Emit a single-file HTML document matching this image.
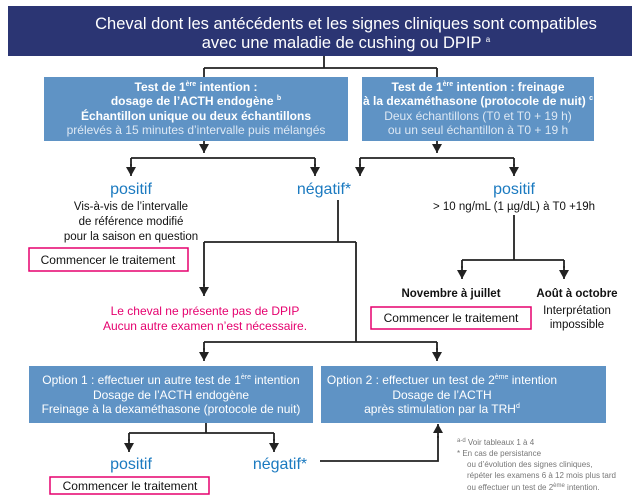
<!DOCTYPE html>
<html><head><meta charset="utf-8"><style>
html,body{margin:0;padding:0;background:#fff}
svg{display:block}
text{font-family:"Liberation Sans",sans-serif}
</style></head><body>
<svg width="640" height="501" viewBox="0 0 640 501" xmlns="http://www.w3.org/2000/svg">
<defs><marker id="a" markerWidth="10" markerHeight="10" refX="9" refY="5" orient="auto" markerUnits="userSpaceOnUse"><path d="M0,0 L9,5 L0,10 Z" fill="#222"/></marker></defs>
<rect x="8" y="6" width="624" height="50" fill="#2b3573"/>
<text x="346" y="29" font-size="16.5" fill="#fff" text-anchor="middle">Cheval dont les antécédents et les signes cliniques sont compatibles</text>
<text x="346" y="48" font-size="16.5" fill="#fff" text-anchor="middle">avec une maladie de cushing ou DPIP <tspan font-size="8" dy="-6">a</tspan></text>
<g stroke="#222" stroke-width="1.8" fill="none">
<path d="M324 56V68M204 68H437M204 68V77M437 68V77"/>
<path d="M204 141V153" marker-end="url(#a)"/><path d="M437 141V153" marker-end="url(#a)"/>
<path d="M131 158H315M131 158V166M315 158V166"/><path d="M131 164V176" marker-end="url(#a)"/><path d="M315 164V176" marker-end="url(#a)"/>
<path d="M360 158H514M360 158V166M514 158V166"/><path d="M360 164V176" marker-end="url(#a)"/><path d="M514 164V176" marker-end="url(#a)"/>
<path d="M338 200V242M204 242H356M356 242V342M204 242V286"/><path d="M204 284V296" marker-end="url(#a)"/>
<path d="M204 342H437M204 342V350M437 342V350"/><path d="M204 348V361" marker-end="url(#a)"/><path d="M437 348V361" marker-end="url(#a)"/>
<path d="M514 215V260M462 260H564M462 260V268M564 260V268"/><path d="M462 266V279" marker-end="url(#a)"/><path d="M564 266V279" marker-end="url(#a)"/>
<path d="M206 423V433M129 433H274M129 433V441M274 433V441"/><path d="M129 439V452" marker-end="url(#a)"/><path d="M274 439V452" marker-end="url(#a)"/>
<path d="M320 461H438V436"/><path d="M438 438V424" marker-end="url(#a)"/>
</g>
<rect x="44" y="77" width="304" height="64" fill="#5f93c5"/>
<rect x="362" y="77" width="232" height="64" fill="#5f93c5"/>
<g font-size="12" fill="#fff" text-anchor="middle">
<text x="196" y="91" font-weight="bold">Test de 1<tspan font-size="7" dy="-5">ère</tspan><tspan dy="5"> intention :</tspan></text>
<text x="196" y="105" font-weight="bold">dosage de l’ACTH endogène <tspan font-size="7" dy="-5">b</tspan></text>
<text x="196" y="120" font-weight="bold">Échantillon unique ou deux échantillons</text>
<text x="196" y="134" fill="#dde8f4">prélevés à 15 minutes d’intervalle puis mélangés</text>
<text x="478" y="91" font-weight="bold">Test de 1<tspan font-size="7" dy="-5">ère</tspan><tspan dy="5"> intention : freinage</tspan></text>
<text x="478" y="105" font-weight="bold">à la dexaméthasone (protocole de nuit) <tspan font-size="7" dy="-5">c</tspan></text>
<text x="478" y="120" fill="#dde8f4">Deux échantillons (T0 et T0 + 19 h)</text>
<text x="478" y="134" fill="#dde8f4">ou un seul échantillon à T0 + 19 h</text>
</g>
<g font-size="16" fill="#1b7ac0" text-anchor="middle">
<text x="131" y="194">positif</text><text x="324" y="194">négatif*</text><text x="514" y="194">positif</text>
<text x="131" y="469">positif</text><text x="280" y="469">négatif*</text>
</g>
<g font-size="11.5" fill="#111" text-anchor="middle">
<text x="131" y="210">Vis-à-vis de l’intervalle</text>
<text x="131" y="225">de référence modifié</text>
<text x="131" y="240">pour la saison en question</text>
<text x="514" y="210">&gt; 10 ng/mL (1 µg/dL) à T0 +19h</text>
<text x="451" y="297" font-weight="bold">Novembre à juillet</text>
<text x="577" y="297" font-weight="bold">Août à octobre</text>
<text x="577" y="314">Interprétation</text>
<text x="577" y="328">impossible</text>
</g>
<g font-size="12" fill="#111" text-anchor="middle">
<rect x="29" y="248" width="159" height="23" fill="#fff" stroke="#e5006e" stroke-width="1.5"/>
<text x="108" y="264">Commencer le traitement</text>
<rect x="371" y="307" width="160" height="22" fill="#fff" stroke="#e5006e" stroke-width="1.5"/>
<text x="451" y="322">Commencer le traitement</text>
<rect x="50" y="477" width="159" height="17" fill="#fff" stroke="#e5006e" stroke-width="1.5"/>
<text x="130" y="490">Commencer le traitement</text>
</g>
<g font-size="12" fill="#e5006e" text-anchor="middle">
<text x="205" y="315">Le cheval ne présente pas de DPIP</text>
<text x="205" y="330">Aucun autre examen n’est nécessaire.</text>
</g>
<rect x="29" y="366" width="284" height="57" fill="#5f93c5"/>
<rect x="321" y="366" width="285" height="57" fill="#5f93c5"/>
<g font-size="12" fill="#fff" text-anchor="middle">
<text x="171" y="384">Option 1 : effectuer un autre test de 1<tspan font-size="7" dy="-5">ère</tspan><tspan dy="5"> intention</tspan></text>
<text x="171" y="399">Dosage de l’ACTH endogène</text>
<text x="171" y="413">Freinage à la dexaméthasone (protocole de nuit)</text>
<text x="442" y="384">Option 2 : effectuer un test de 2<tspan font-size="7" dy="-5">ème</tspan><tspan dy="5"> intention</tspan></text>
<text x="442" y="399">Dosage de l’ACTH</text>
<text x="442" y="413">après stimulation par la TRH<tspan font-size="7" dy="-5">d</tspan></text>
</g>
<g font-size="8" fill="#777">
<text x="457" y="445"><tspan font-size="6" dy="-3">a-d</tspan><tspan dy="3"> Voir tableaux 1 à 4</tspan></text>
<text x="457" y="456">*  En cas de persistance</text>
<text x="467" y="467">ou d’évolution des signes cliniques,</text>
<text x="467" y="478">répéter les examens 6 à 12 mois plus tard</text>
<text x="467" y="490">ou effectuer un test de 2<tspan font-size="6" dy="-3">ème</tspan><tspan dy="3"> intention.</tspan></text>
</g>
</svg>
</body></html>
